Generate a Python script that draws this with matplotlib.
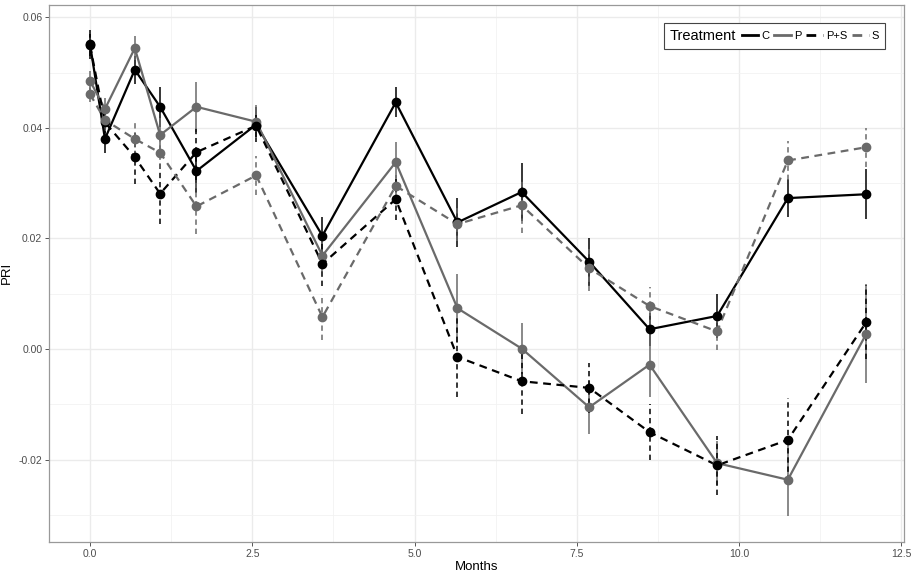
import matplotlib
matplotlib.use("Agg")
import matplotlib.pyplot as plt
from matplotlib.lines import Line2D
from matplotlib.offsetbox import HPacker
import numpy as np

plt.rcParams["font.family"] = ["Liberation Sans", "DejaVu Sans"]

months = [0.0, 0.23, 0.69, 1.08, 1.64, 2.56, 3.58, 4.71, 5.66, 6.65, 7.69, 8.62, 9.66, 10.75, 11.96]

treatments = ["C", "P", "P+S", "S"]

pri_C = [0.0551, 0.0380, 0.0505, 0.0438, 0.0322, 0.0406, 0.0205, 0.0446, 0.0229, 0.0284, 0.0158, 0.0036, 0.0060, 0.0273, 0.0280]
se_C = [0.0026, 0.0026, 0.0025, 0.0036, 0.0040, 0.0032, 0.0033, 0.0027, 0.0044, 0.0052, 0.0043, 0.0030, 0.0040, 0.0035, 0.0045]

pri_P = [0.0485, 0.0434, 0.0544, 0.0387, 0.0438, 0.0411, 0.0169, 0.0338, 0.0074, 0.0001, -0.0105, -0.0028, -0.0206, -0.0236, 0.0028]
se_P = [0.0017, 0.0020, 0.0022, 0.0030, 0.0045, 0.0030, 0.0030, 0.0037, 0.0062, 0.0046, 0.0048, 0.0058, 0.0040, 0.0066, 0.0090]

pri_PS = [0.0549, 0.0410, 0.0347, 0.0281, 0.0356, 0.0404, 0.0154, 0.0271, -0.0014, -0.0058, -0.0070, -0.0150, -0.0210, -0.0164, 0.0049]
se_PS = [0.0020, 0.0020, 0.0048, 0.0055, 0.0050, 0.0020, 0.0040, 0.0037, 0.0073, 0.0060, 0.0045, 0.0050, 0.0053, 0.0075, 0.0067]

pri_S = [0.0461, 0.0414, 0.0380, 0.0355, 0.0258, 0.0314, 0.0058, 0.0295, 0.0226, 0.0260, 0.0146, 0.0078, 0.0032, 0.0341, 0.0365]
se_S = [0.0015, 0.0020, 0.0030, 0.0030, 0.0050, 0.0035, 0.0041, 0.0020, 0.0030, 0.0050, 0.0040, 0.0035, 0.0033, 0.0036, 0.0035]

x_ticks = [0.0, 2.5, 5.0, 7.5, 10.0, 12.5]
x_tick_labels = ["0.0", "2.5", "5.0", "7.5", "10.0", "12.5"]
y_ticks = [-0.02, 0.00, 0.02, 0.04, 0.06]
y_tick_labels = ["-0.02", "0.00", "0.02", "0.04", "0.06"]

series = [
    ("C", pri_C, se_C, "black", "-"),
    ("P", pri_P, se_P, "#6a6a6a", "-"),
    ("P+S", pri_PS, se_PS, "black", (0, (3.5, 2.5))),
    ("S", pri_S, se_S, "#6a6a6a", (0, (3.5, 2.5))),
]

fig = plt.figure(figsize=(9.15, 5.75), dpi=100)
ax = fig.add_axes([0.0539, 0.0579, 0.988 - 0.0539, 0.9913 - 0.0579])

mx = np.array(months)
for name, vals, se, col, ls in series:
    v = np.array(vals)
    s = np.array(se)
    ax.vlines(mx, v - s, v + s, colors=col, linestyles=ls, linewidth=1.1, zorder=3)
    ax.plot(mx, v, color=col, linestyle=ls, linewidth=1.6, zorder=4)
    ax.plot(mx, v, linestyle="none", marker="o", markersize=6, color=col, zorder=5)

ax.set_xlim(-0.627, 12.54)
ax.set_ylim(-0.0348, 0.0622)
ax.set_xticks(x_ticks)
ax.set_xticklabels(x_tick_labels)
ax.set_yticks(y_ticks)
ax.set_yticklabels(y_tick_labels)
ax.set_xticks([1.25, 3.75, 6.25, 8.75, 11.25], minor=True)
ax.set_yticks([-0.03, -0.01, 0.01, 0.03, 0.05], minor=True)
ax.grid(True, which="major", color="#ebebeb", linewidth=1.0, zorder=0)
ax.grid(True, which="minor", color="#f2f2f2", linewidth=0.6, zorder=0)
ax.set_axisbelow(True)
ax.tick_params(which="minor", length=0)
ax.tick_params(which="major", length=3, width=0.7, color="#555555",
               labelsize=7.5, labelcolor="#4d4d4d", pad=2)
for sp in ax.spines.values():
    sp.set_color("#999999")
    sp.set_linewidth(0.9)

ax.set_xlabel("Months", fontsize=9.5, labelpad=2)
ax.set_ylabel("PRI", fontsize=9.5, labelpad=4)

handles = [Line2D([], [], color=col, linestyle=ls, linewidth=2) for _, _, _, col, ls in series]
leg = ax.legend(handles, treatments, ncol=4, loc="upper right",
                bbox_to_anchor=(0.984, 0.976), title="Treatment",
                fontsize=8, title_fontsize=10.5, handlelength=1.5,
                handletextpad=0.3, columnspacing=0.4, borderpad=0.5,
                fancybox=False, framealpha=1, edgecolor="#444444")
leg.get_frame().set_linewidth(0.8)
# place title to the left of the entries (ggplot style)
title_box = leg._legend_title_box
handle_box = leg._legend_handle_box
newbox = HPacker(pad=leg.borderpad * leg._fontsize, sep=4, align="center",
                 children=[title_box, handle_box])
newbox.set_figure(fig)
newbox.axes = ax
leg._legend_box = newbox
newbox.set_offset(leg._findoffset)

fig.savefig("out.png", dpi=100)
